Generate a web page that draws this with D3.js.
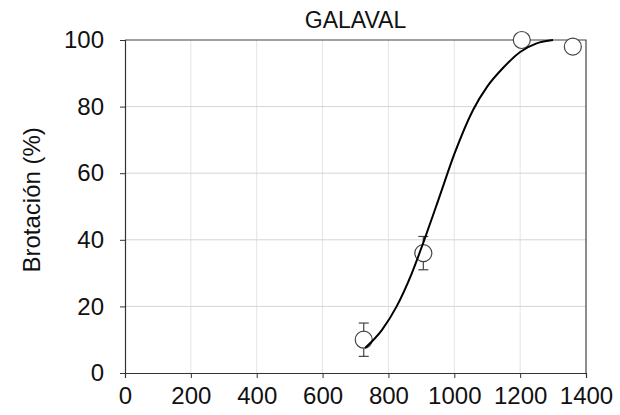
<!DOCTYPE html>
<html>
<head>
<meta charset="utf-8">
<script src="https://cdn.jsdelivr.net/npm/d3@7"></script>
<style>
body { margin: 0; background: #fff; }
text { font-family: "Liberation Sans", Arial, sans-serif; fill: #111; }
</style>
</head>
<body>
<div id="chart"></div>
<script>
var width = 620
var height = 415

// observed points
var obsX = [725, 906, 1205, 1360]
var obsY = [10, 36, 100, 98]
var obsErr = [5, 5, 0, 0]

// fitted curve
var fitX = [729, 780, 825, 870, 909, 957, 1000, 1057, 1100, 1150, 1200, 1250, 1300]
var fitY = [7.5, 12.9, 20, 29.7, 40, 53.5, 65.7, 79, 86, 91.8, 96.4, 99, 100]

var xTicks = [0, 200, 400, 600, 800, 1000, 1200, 1400]
var yTicks = [0, 20, 40, 60, 80, 100]

var margin = {top: 40, right: 34, bottom: 42, left: 125}

var svg = d3.select("#chart")
    .append("svg")
    .attr("width", width)
    .attr("height", height)

var x = d3.scaleLinear()
    .domain([0, 1400])
    .range([margin.left, width - margin.right])

var y = d3.scaleLinear()
    .domain([0, 100])
    .range([height - margin.bottom, margin.top])

// grid
svg.append("g")
    .selectAll("line")
    .data(xTicks.slice(1, -1))
    .enter()
    .append("line")
    .attr("x1", function(d) { return x(d); })
    .attr("x2", function(d) { return x(d); })
    .attr("y1", y(0))
    .attr("y2", y(100))
    .attr("stroke", "#e4e4e4")
    .attr("stroke-width", 1)

svg.append("g")
    .selectAll("line")
    .data(yTicks.slice(1, -1))
    .enter()
    .append("line")
    .attr("x1", x(0))
    .attr("x2", x(1400))
    .attr("y1", function(d) { return y(d); })
    .attr("y2", function(d) { return y(d); })
    .attr("stroke", "#d4d4d4")
    .attr("stroke-width", 1)

// frame top / right
svg.append("path")
    .attr("d", "M" + x(0) + "," + y(100) + "H" + x(1400) + "V" + y(0))
    .attr("fill", "none")
    .attr("stroke", "#444")
    .attr("stroke-width", 1.2)

var xAxis = svg.append("g")
    .attr("transform", "translate(0," + y(0) + ")")
    .call(d3.axisBottom(x).tickValues(xTicks).tickFormat(d3.format("d")).tickSize(5).tickPadding(9))
xAxis.select(".domain").attr("stroke", "#333").attr("stroke-width", 1.2)
xAxis.selectAll(".tick line").attr("stroke", "#333")
xAxis.selectAll("text").attr("font-size", 24).attr("fill", "#111")

var yAxis = svg.append("g")
    .attr("transform", "translate(" + x(0) + ",0)")
    .call(d3.axisLeft(y).tickValues(yTicks).tickSize(5).tickPadding(16))
yAxis.select(".domain").attr("stroke", "#333").attr("stroke-width", 1.2)
yAxis.selectAll(".tick line").attr("stroke", "#333")
yAxis.selectAll("text").attr("font-size", 24).attr("fill", "#111")

svg.append("text")
    .attr("x", (x(0) + x(1400)) / 2)
    .attr("y", 28)
    .attr("text-anchor", "middle")
    .attr("font-size", 23)
    .text("GALAVAL")

svg.append("text")
    .attr("transform", "translate(40," + y(52) + ") rotate(-90)")
    .attr("text-anchor", "middle")
    .attr("font-size", 24)
    .text("Brotación (%)")

// error bars
var eb = svg.append("g")
    .selectAll("g")
    .data(obsX.map(function(d, i) { return {x: d, y: obsY[i], e: obsErr[i]}; })
        .filter(function(d) { return d.e > 0; }))
    .enter()
    .append("g")
    .attr("stroke", "#444")
    .attr("stroke-width", 1.2)

eb.append("line")
    .attr("x1", function(d) { return x(d.x); })
    .attr("x2", function(d) { return x(d.x); })
    .attr("y1", function(d) { return y(d.y - d.e); })
    .attr("y2", function(d) { return y(d.y + d.e); })
eb.append("line")
    .attr("x1", function(d) { return x(d.x) - 5; })
    .attr("x2", function(d) { return x(d.x) + 5; })
    .attr("y1", function(d) { return y(d.y - d.e); })
    .attr("y2", function(d) { return y(d.y - d.e); })
eb.append("line")
    .attr("x1", function(d) { return x(d.x) - 5; })
    .attr("x2", function(d) { return x(d.x) + 5; })
    .attr("y1", function(d) { return y(d.y + d.e); })
    .attr("y2", function(d) { return y(d.y + d.e); })

// points
svg.append("g")
    .selectAll("circle")
    .data(obsX)
    .enter()
    .append("circle")
    .attr("cx", function(d) { return x(d); })
    .attr("cy", function(d, i) { return y(obsY[i]); })
    .attr("r", 8.5)
    .attr("fill", "#fff")
    .attr("stroke", "#444")
    .attr("stroke-width", 1.2)

// fitted curve
var line = d3.line()
    .x(function(d) { return x(d[0]); })
    .y(function(d) { return y(d[1]); })
    .curve(d3.curveMonotoneX)

svg.append("path")
    .datum(fitX.map(function(d, i) { return [d, fitY[i]]; }))
    .attr("d", line)
    .attr("fill", "none")
    .attr("stroke", "#000")
    .attr("stroke-width", 2)
</script>
</body>
</html>
